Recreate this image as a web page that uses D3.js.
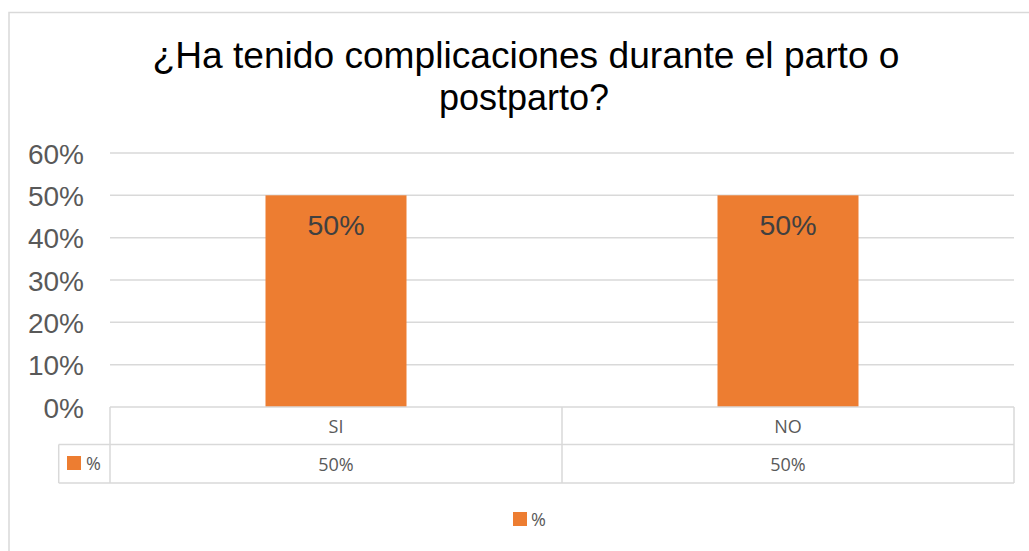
<!DOCTYPE html>
<html>
<head>
<meta charset="utf-8">
<script src="https://cdn.jsdelivr.net/npm/d3@7/dist/d3.min.js"></script>
<style>
  html, body { margin: 0; padding: 0; background: #fff; }
  svg { display: block; }
</style>
</head>
<body>
<script>
// Survey answers and their shares
const categories = ["SI", "NO"];
const seriesName = "%";
const values = [0.5, 0.5];
const yTicks = [0, 0.1, 0.2, 0.3, 0.4, 0.5, 0.6];
const titleLines = ["¿Ha tenido complicaciones durante el parto o", "postparto?"];

const W = 1029, H = 551;
const orange = "#ED7D31", grid = "#d9d9d9", textGrey = "#595959";

const svg = d3.select("body").append("svg").attr("width", W).attr("height", H);

// chart frame
svg.append("rect").attr("x", 9).attr("y", 12.5).attr("width", 1040).attr("height", 560)
  .attr("fill", "#fff").attr("stroke", grid).attr("stroke-width", 1.5);

// title (two lines)
const titleWidths = [747, null];
svg.append("g").selectAll("text").data(titleLines).join("text")
  .attr("x", (d, i) => i === 0 ? 526 : 524)
  .attr("y", (d, i) => i === 0 ? 67.5 : 109.5)
  .attr("text-anchor", "middle")
  .attr("font-family", "'Liberation Sans', Arial, sans-serif")
  .attr("font-size", 36).attr("fill", "#000")
  .each(function (d, i) {
    if (titleWidths[i]) d3.select(this).attr("textLength", titleWidths[i]).attr("lengthAdjust", "spacingAndGlyphs");
  })
  .text(d => d);

const plot = { left: 110, right: 1014, top: 153, bottom: 407 };

const x = d3.scaleBand().domain(categories).range([plot.left, plot.right]).paddingInner(0).paddingOuter(0);
const y = d3.scaleLinear().domain([0, 0.6]).range([plot.bottom, plot.top]);
const fmt = d3.format(".0%");

// gridlines
svg.append("g").selectAll("line").data(yTicks.filter(t => t > 0)).join("line")
  .attr("x1", plot.left).attr("x2", plot.right)
  .attr("y1", d => y(d)).attr("y2", d => y(d))
  .attr("stroke", grid).attr("stroke-width", 1.5);

// y axis labels
const yAxis = d3.axisLeft(y).tickValues(yTicks).tickFormat(fmt).tickSize(0).tickPadding(0);
const yg = svg.append("g").attr("transform", "translate(84,0)").call(yAxis);
yg.select(".domain").remove();
yg.selectAll("text")
  .attr("font-family", "'Liberation Sans', Arial, sans-serif")
  .attr("font-size", 28).attr("fill", textGrey)
  .attr("dy", "0.36em");

// bars
const barW = 141;
svg.append("g").selectAll("rect").data(categories).join("rect")
  .attr("x", d => x(d) + x.bandwidth() / 2 - barW / 2)
  .attr("width", barW)
  .attr("y", (d, i) => y(values[i]))
  .attr("height", (d, i) => y(0) - y(values[i]))
  .attr("fill", orange);

// value labels inside bars
svg.append("g").selectAll("text").data(categories).join("text")
  .attr("x", d => x(d) + x.bandwidth() / 2)
  .attr("y", (d, i) => y(values[i]) + 39.5)
  .attr("text-anchor", "middle")
  .attr("font-family", "'Liberation Sans', Arial, sans-serif")
  .attr("font-size", 28.5).attr("fill", "#404040")
  .text((d, i) => fmt(values[i]));

// data table below the plot
const tTop = 407, tMid = 444.5, tBot = 483, tLeft = 58.7;
const tg = svg.append("g").attr("stroke", grid).attr("stroke-width", 1.5).attr("fill", "none");
tg.append("line").attr("x1", plot.left).attr("x2", plot.right).attr("y1", tTop).attr("y2", tTop);
tg.append("line").attr("x1", tLeft).attr("x2", plot.right).attr("y1", tMid).attr("y2", tMid);
tg.append("line").attr("x1", tLeft).attr("x2", plot.right).attr("y1", tBot).attr("y2", tBot);
tg.append("line").attr("x1", tLeft).attr("x2", tLeft).attr("y1", tMid).attr("y2", tBot);
const colEdges = [plot.left, ...categories.map(c => x(c) + x.bandwidth())];
tg.selectAll("line.col").data(colEdges).join("line").attr("class", "col")
  .attr("x1", d => d).attr("x2", d => d).attr("y1", tTop).attr("y2", tBot);

const tableFont = "'Open Sans', 'Noto Sans', sans-serif";
const tableSize = 18;
svg.append("g").selectAll("text").data(categories).join("text")
  .attr("x", d => x(d) + x.bandwidth() / 2).attr("y", 433.3)
  .attr("text-anchor", "middle").attr("font-family", tableFont)
  .attr("font-size", tableSize).attr("fill", textGrey).text(d => d);
svg.append("g").selectAll("text").data(categories).join("text")
  .attr("x", d => x(d) + x.bandwidth() / 2).attr("y", 471)
  .attr("text-anchor", "middle").attr("font-family", tableFont)
  .attr("font-size", tableSize).attr("fill", textGrey).text((d, i) => fmt(values[i]));

// series key inside the table
svg.append("rect").attr("x", 67).attr("y", 456).attr("width", 14).attr("height", 14).attr("fill", orange);
svg.append("text").attr("x", 86).attr("y", 470).attr("font-family", tableFont)
  .attr("font-size", tableSize).attr("fill", textGrey).text(seriesName);

// legend
svg.append("rect").attr("x", 513).attr("y", 512).attr("width", 14).attr("height", 14).attr("fill", orange);
svg.append("text").attr("x", 531).attr("y", 526).attr("font-family", tableFont)
  .attr("font-size", tableSize).attr("fill", textGrey).text(seriesName);
</script>
</body>
</html>
